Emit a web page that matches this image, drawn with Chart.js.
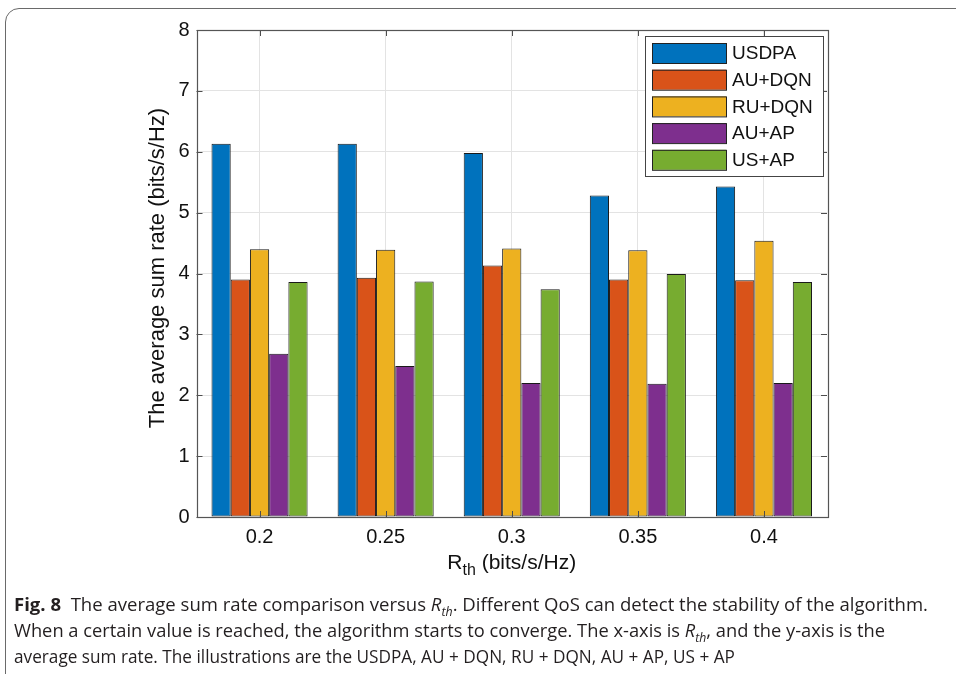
<!DOCTYPE html>
<html>
<head>
<meta charset="utf-8">
<script src="https://cdn.jsdelivr.net/npm/chart.js@4.4.1/dist/chart.umd.min.js"></script>
<style>
  html, body { margin: 0; padding: 0; background: #fff; }
  body { width: 956px; height: 674px; position: relative; overflow: hidden; }
  #frame {
    position: absolute; left: 5px; top: 8px; width: 1000px; height: 700px;
    border: 1.5px solid #6a6a6a; border-radius: 14px; box-sizing: border-box;
  }
  #plot { position: absolute; left: 0; top: 0; width: 956px; height: 674px; }
  #caption {
    position: absolute; left: 14px; top: 591px;
    font-family: "Open Sans", "Noto Sans", sans-serif; font-size: 18px; color: #231f20;
  }
  #caption div { height: 26px; line-height: 26px; white-space: nowrap; transform-origin: left center; width: max-content; }
  #caption b { font-weight: 700; }
  #caption i sub { font-size: 12px; }
</style>
</head>
<body>
<div id="frame"></div>
<canvas id="plot" width="956" height="674"></canvas>
<div id="caption">
  <div data-w="914"><b>Fig. 8</b>&nbsp; The average sum rate comparison versus <i>R<sub>th</sub></i>. Different QoS can detect the stability of the algorithm.</div>
  <div data-w="871">When a certain value is reached, the algorithm starts to converge. The x-axis is <i>R<sub>th</sub></i>, and the y-axis is the</div>
  <div data-w="721">average sum rate. The illustrations are the USDPA, AU + DQN, RU + DQN, AU + AP, US + AP</div>
</div>
<script>
// R_th values on the x axis
const rthLabels = ['0.2', '0.25', '0.3', '0.35', '0.4'];

// average sum rate (bits/s/Hz)
const usdpa = [6.13, 6.13, 5.98, 5.28, 5.43];
const auDqn = [3.90, 3.93, 4.13, 3.90, 3.89];
const ruDqn = [4.40, 4.39, 4.41, 4.38, 4.54];
const auAp  = [2.68, 2.48, 2.20, 2.19, 2.20];
const usAp  = [3.86, 3.87, 3.74, 3.99, 3.86];

const seriesNames = ['USDPA', 'AU+DQN', 'RU+DQN', 'AU+AP', 'US+AP'];
const seriesColors = ['#0072BD', '#D95319', '#EDB120', '#7E2F8E', '#77AC30'];

const yMin = 0;
const yMax = 8;

const FONT = 'Liberation Sans, Arial, Helvetica, sans-serif';

// box, inward ticks, legend and the axis titles, MATLAB style
const matlabAxes = {
    id: 'matlabAxes',
    afterDraw(chart) {
        const ctx = chart.ctx;
        const a = chart.chartArea;
        const x = chart.scales.x;
        const y = chart.scales.y;
        ctx.save();

        // tick marks pointing inward
        ctx.strokeStyle = '#4d4d4d';
        ctx.lineWidth = 1;
        ctx.beginPath();
        y.ticks.forEach(t => {
            const py = Math.round(y.getPixelForValue(t.value)) + 0.5;
            ctx.moveTo(a.left, py); ctx.lineTo(a.left + 6, py);
            ctx.moveTo(a.right, py); ctx.lineTo(a.right - 6, py);
        });
        rthLabels.forEach((l, i) => {
            const px = Math.round(x.getPixelForValue(i)) + 0.5;
            ctx.moveTo(px, a.bottom); ctx.lineTo(px, a.bottom - 6);
            ctx.moveTo(px, a.top); ctx.lineTo(px, a.top + 6);
        });
        ctx.stroke();

        // axes box
        ctx.strokeStyle = '#555';
        ctx.lineWidth = 1.2;
        ctx.strokeRect(Math.round(a.left) + 0.5, Math.round(a.top) + 0.5,
            Math.round(a.width), Math.round(a.height));

        // legend in the upper right corner
        const lx = a.right - 182, ly = a.top + 6, lw = 178, lh = 140;
        ctx.fillStyle = '#fff';
        ctx.fillRect(lx, ly, lw, lh);
        ctx.strokeStyle = '#444';
        ctx.lineWidth = 1;
        ctx.strokeRect(lx + 0.5, ly + 0.5, lw, lh);
        ctx.font = '19px ' + FONT;
        ctx.textBaseline = 'middle';
        chart.data.datasets.forEach((ds, i) => {
            const cy = ly + 17 + i * 26.7;
            ctx.fillStyle = ds.backgroundColor;
            ctx.fillRect(lx + 7, cy - 10, 74, 20);
            ctx.strokeStyle = '#222';
            ctx.strokeRect(lx + 7.5, cy - 9.5, 74, 20);
            ctx.fillStyle = '#111';
            ctx.fillText(ds.label, lx + 87, cy + 1);
        });

        // y title
        ctx.fillStyle = '#111';
        ctx.font = '22px ' + FONT;
        ctx.textAlign = 'center';
        ctx.save();
        ctx.translate(158, 268);
        ctx.rotate(-Math.PI / 2);
        ctx.fillText('The average sum rate (bits/s/Hz)', 0, 0);
        ctx.restore();

        // x title with subscript
        const cx = (a.left + a.right) / 2;
        ctx.textAlign = 'left';
        ctx.font = '21px ' + FONT;
        const wR = ctx.measureText('R').width;
        const rest = ' (bits/s/Hz)';
        const wRest = ctx.measureText(rest).width;
        ctx.font = '16px ' + FONT;
        const wSub = ctx.measureText('th').width;
        const sx = cx - (wR + wSub + wRest) / 2;
        const by = 563;
        ctx.font = '21px ' + FONT;
        ctx.fillText('R', sx, by);
        ctx.font = '16px ' + FONT;
        ctx.fillText('th', sx + wR, by + 8);
        ctx.font = '21px ' + FONT;
        ctx.fillText(rest, sx + wR + wSub, by);

        ctx.restore();
    }
};

const seriesValues = [usdpa, auDqn, ruDqn, auAp, usAp];

new Chart(document.getElementById('plot'), {
    type: 'bar',
    data: {
        labels: rthLabels,
        datasets: seriesNames.map((name, i) => ({
            label: name,
            data: seriesValues[i],
            backgroundColor: seriesColors[i],
            borderColor: '#1a1a1a',
            borderWidth: 1,
            borderSkipped: false,
            categoryPercentage: 0.762,
            barPercentage: 1.0
        }))
    },
    options: {
        responsive: false,
        animation: false,
        devicePixelRatio: 1,
        layout: { padding: { left: 0, top: 30, right: 129, bottom: 0 } },
        plugins: {
            legend: { display: false },
            tooltip: { enabled: false }
        },
        scales: {
            x: {
                afterFit: s => { s.height = 157; },
                grid: { offset: false, color: '#e3e3e3', drawTicks: false },
                border: { display: false },
                ticks: { color: '#111', font: { family: FONT, size: 20 }, padding: 8 }
            },
            y: {
                min: yMin,
                max: yMax,
                afterFit: s => { s.width = 196.5; },
                grid: { color: '#e3e3e3', drawTicks: false },
                border: { display: false },
                ticks: { stepSize: 1, color: '#111', font: { family: FONT, size: 20 }, padding: 7 }
            }
        }
    },
    plugins: [matlabAxes]
});

// squeeze the caption lines to the width they have in the figure
document.querySelectorAll('#caption div').forEach(d => {
    const target = +d.dataset.w;
    const w = d.getBoundingClientRect().width;
    d.style.transform = 'scaleX(' + (target / w).toFixed(4) + ')';
});
</script>
</body>
</html>
